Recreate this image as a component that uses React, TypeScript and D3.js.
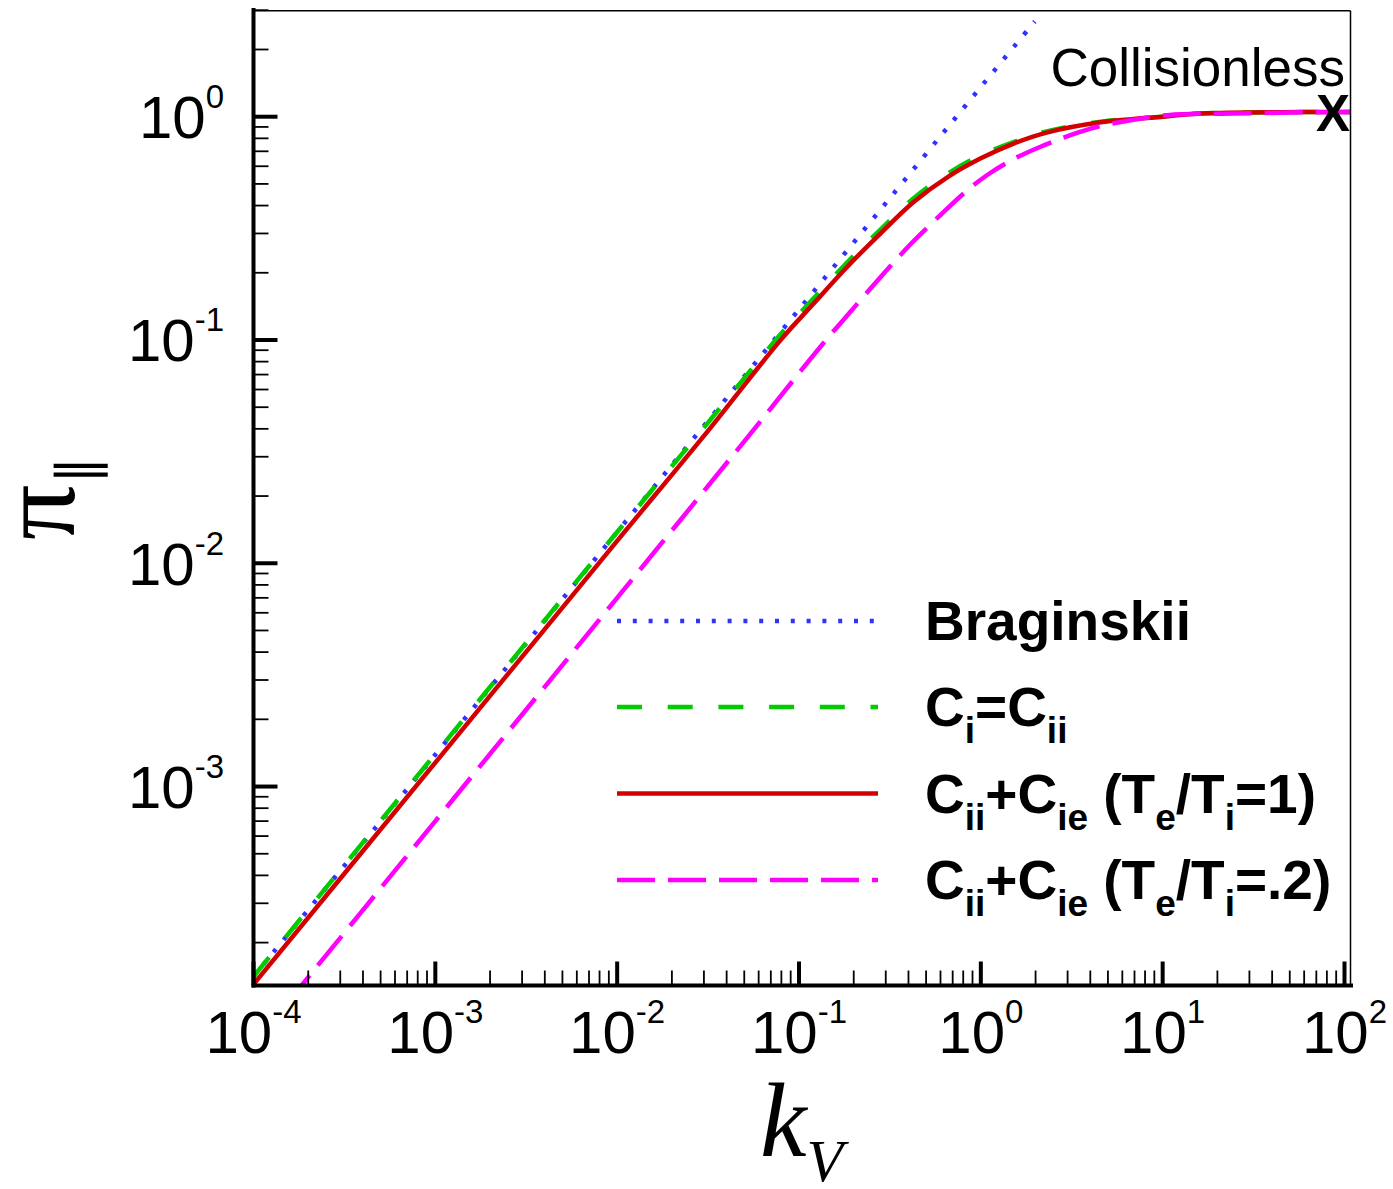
import React from 'react';
import * as d3 from 'd3';

// ---- data ----
const xMajorExps = [-4, -3, -2, -1, 0, 1, 2];
const yMajorExps = [-3, -2, -1, 0];

const kBraginskii = [1e-4, 1e-3, 1e-2, 1e-1, 1, 1.98];
const piBraginskii = [1.41e-4, 1.39e-3, 1.38e-2, 0.137, 1.36, 2.67];

const kCi = [1e-4, 1e-3, 1e-2, 0.03, 0.0792, 0.1208, 0.1843, 0.2811, 0.4286, 0.654, 1.0, 1.526, 2.33, 4.57, 10, 16.2, 57.6, 108];
const piCi = [1.41e-4, 1.4e-3, 1.38e-2, 4.05e-2, 0.106, 0.154, 0.223, 0.313, 0.433, 0.555, 0.672, 0.772, 0.862, 0.95, 1.0, 1.033, 1.049, 1.05];

const kT1 = [1e-4, 1e-3, 1e-2, 0.03, 0.0792, 0.1208, 0.1843, 0.2811, 0.4286, 0.654, 1.0, 1.526, 2.33, 4.57, 10, 16.2, 57.6, 108];
const piT1 = [1.3e-4, 1.28e-3, 1.26e-2, 3.72e-2, 0.0999, 0.146, 0.2129, 0.3005, 0.4163, 0.5355, 0.651, 0.76, 0.851, 0.944, 1.0, 1.033, 1.049, 1.05];

const kT02 = [1e-4, 1e-3, 1e-2, 0.054, 0.1312, 0.1918, 0.2805, 0.4103, 0.6001, 0.8062, 1.0846, 1.519, 2.13, 3.537, 4.557, 10.6, 24.7, 60, 108];
const piT02 = [7.0e-5, 7.0e-4, 7.0e-3, 0.038, 0.0933, 0.1338, 0.1909, 0.2683, 0.3629, 0.4539, 0.5481, 0.6465, 0.7339, 0.8565, 0.9087, 1.016, 1.033, 1.046, 1.05];

const seriesNames = ['Braginskii', 'Ci=Cii', 'Cii+Cie (Te/Ti=1)', 'Cii+Cie (Te/Ti=.2)'];
const seriesColors = ['#3232ff', '#00cc00', '#d40000', '#ff00ff'];
const seriesDash = ['4 11.8', '25 25.7', '', '38 13'];

const W = 1393;
const H = 1189;
const L = 253.5;
const R = 1350.5;
const T = 10.7;
const B = 985.5;

const sans = 'Liberation Sans, Arial, Helvetica, sans-serif';
const serif = 'Liberation Serif, Times New Roman, serif';

export default function App() {
  const x = d3.scaleLog().domain([1e-4, 107.9]).range([L, R]);
  const y = d3.scaleLog().domain([1.285e-4, 2.984]).range([B, T]);

  const line = d3
    .line<[number, number]>()
    .x((d) => x(d[0]))
    .y((d) => y(d[1]))
    .curve(d3.curveCatmullRom.alpha(0.5));

  const series: [number, number][][] = [
    kBraginskii.map((k, i) => [k, piBraginskii[i]]),
    kCi.map((k, i) => [k, piCi[i]]),
    kT1.map((k, i) => [k, piT1[i]]),
    kT02.map((k, i) => [k, piT02[i]]),
  ];

  const [xd0, xd1] = x.domain();
  const [yd0, yd1] = y.domain();
  const xMinor: number[] = [];
  for (let e = -4; e <= 2; e++)
    for (let m = 2; m <= 9; m++) {
      const v = m * Math.pow(10, e);
      if (v > xd0 && v <= xd1) xMinor.push(v);
    }
  const yMinor: number[] = [];
  for (let e = -4; e <= 0; e++)
    for (let m = 2; m <= 9; m++) {
      const v = m * Math.pow(10, e);
      if (v >= yd0 && v <= yd1 + 0.02) yMinor.push(v);
    }

  const legendY = [621, 707, 793.5, 880];
  const lx0 = 617;
  const lx1 = 878;
  const tx = 925;
  const mainFs = 55;
  const subFs = 37;
  const subDy = 17;

  const sub = (s: string) => (
    <tspan fontSize={subFs} dy={subDy}>
      {s}
    </tspan>
  );
  const back = (s: string) => <tspan dy={-subDy}>{s}</tspan>;

  const legendLabels = [
    <text key="l0" x={tx} y={legendY[0] + 19} fontFamily={sans} fontWeight="bold" fontSize={mainFs}>
      Braginskii
    </text>,
    <text key="l1" x={tx} y={legendY[1] + 19} fontFamily={sans} fontWeight="bold" fontSize={mainFs}>
      C{sub('i')}
      {back('=C')}
      {sub('ii')}
    </text>,
    <text key="l2" x={tx} y={legendY[2] + 19} fontFamily={sans} fontWeight="bold" fontSize={mainFs}>
      C{sub('ii')}
      {back('+C')}
      {sub('ie')}
      {back(' (T')}
      {sub('e')}
      {back('/T')}
      {sub('i')}
      {back('=1)')}
    </text>,
    <text key="l3" x={tx} y={legendY[3] + 19} fontFamily={sans} fontWeight="bold" fontSize={mainFs}>
      C{sub('ii')}
      {back('+C')}
      {sub('ie')}
      {back(' (T')}
      {sub('e')}
      {back('/T')}
      {sub('i')}
      {back('=.2)')}
    </text>,
  ];

  return (
    <svg width={W} height={H} style={{ display: 'block', position: 'absolute', left: 0, top: 0 }}>
      <rect x={0} y={0} width={W} height={H} fill="#fff" />
      <defs>
        <clipPath id="plotclip">
          <rect x={L} y={T} width={R - L} height={B - T} />
        </clipPath>
      </defs>

      {/* curves */}
      <g clipPath="url(#plotclip)">
        {series.map((s, i) => (
          <path
            key={seriesNames[i]}
            d={line(s) || ''}
            fill="none"
            stroke={seriesColors[i]}
            strokeWidth={4.5}
            strokeDasharray={seriesDash[i] || undefined}
            strokeLinecap="butt"
          />
        ))}
      </g>

      {/* frame */}
      <line x1={L} x2={R} y1={T} y2={T} stroke="#000" strokeWidth={1.5} />
      <line x1={R} x2={R} y1={T} y2={B} stroke="#000" strokeWidth={1.5} />
      <line x1={L} x2={L} y1={8} y2={B + 2} stroke="#000" strokeWidth={4} />
      <line x1={L - 2} x2={R + 2.5} y1={B} y2={B} stroke="#000" strokeWidth={4} />

      {/* x ticks */}
      {xMajorExps.map((e) => {
        const px = x(Math.pow(10, e));
        return (
          <g key={'xM' + e}>
            <line x1={px} x2={px} y1={B} y2={B - 24} stroke="#000" strokeWidth={4} />
            <text x={px} y={1053} textAnchor="middle" fontFamily={sans} fontSize={60}>
              10
              <tspan fontSize={33} dy={-30}>
                {e}
              </tspan>
            </text>
          </g>
        );
      })}
      {xMinor.map((v, i) => (
        <line key={'xm' + i} x1={x(v)} x2={x(v)} y1={B} y2={B - 15} stroke="#000" strokeWidth={1.8} />
      ))}

      {/* y ticks */}
      {yMajorExps.map((e) => {
        const py = y(Math.pow(10, e));
        return (
          <g key={'yM' + e}>
            <line x1={L} x2={L + 24} y1={py} y2={py} stroke="#000" strokeWidth={4} />
            <text x={224} y={py + 21.5} textAnchor="end" fontFamily={sans} fontSize={60}>
              10
              <tspan fontSize={33} dy={-30}>
                {e}
              </tspan>
            </text>
          </g>
        );
      })}
      {yMinor.map((v, i) => (
        <line key={'ym' + i} x1={L} x2={L + 15} y1={y(v)} y2={y(v)} stroke="#000" strokeWidth={1.8} />
      ))}

      {/* annotations */}
      <text x={1345} y={86} textAnchor="end" fontFamily={sans} fontSize={53}>
        Collisionless
      </text>
      <text x={1333} y={131} textAnchor="middle" fontFamily={sans} fontWeight="bold" fontSize={51}>
        X
      </text>

      {/* legend */}
      {seriesNames.map((n, i) => (
        <line
          key={'lg' + n}
          x1={lx0}
          x2={lx1}
          y1={legendY[i]}
          y2={legendY[i]}
          stroke={seriesColors[i]}
          strokeWidth={4.5}
          strokeDasharray={seriesDash[i] || undefined}
        />
      ))}
      {legendLabels}

      {/* axis titles */}
      <text x={760} y={1156} fontFamily={serif} fontStyle="italic" fontSize={105}>
        k
        <tspan fontSize={60} dy={25}>
          V
        </tspan>
      </text>
      <text transform="translate(74,540) rotate(-90)" fontFamily={serif} fontSize={110}>
        π
        <tspan fontSize={55} dy={22}>
          ∥
        </tspan>
      </text>
    </svg>
  );
}
